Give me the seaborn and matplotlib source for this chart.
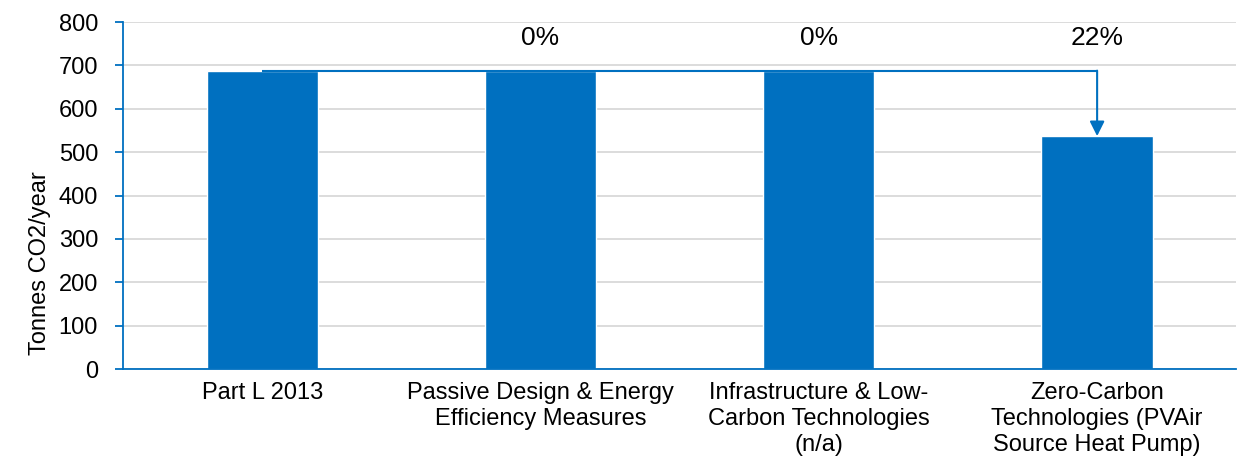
import matplotlib
matplotlib.use("Agg")
import matplotlib.pyplot as plt
import seaborn as sns
import pandas as pd

categories = [
    "Part L 2013",
    "Passive Design & Energy\nEfficiency Measures",
    "Infrastructure & Low-\nCarbon Technologies\n(n/a)",
    "Zero-Carbon\nTechnologies (PVAir\nSource Heat Pump)",
]
emissions = [688, 688, 688, 537]
y_ticks = [0, 100, 200, 300, 400, 500, 600, 700, 800]

BLUE = "#0070C0"
GRID = "#D9D9D9"
FS = 17

sns.set_theme(style="white")
plt.rcParams["font.family"] = ["Liberation Sans", "DejaVu Sans"]

df = pd.DataFrame({"stage": categories, "co2": emissions})

fig = plt.figure(figsize=(12.39, 4.59), dpi=100)
ax = fig.add_axes([0.0993, 0.196, 0.8985, 0.756])

sns.barplot(data=df, x="stage", y="co2", color=BLUE, width=0.4,
            saturation=1, ax=ax, zorder=2)

ax.set_xlim(-0.5, len(categories) - 0.5)
ax.set_ylim(0, 800)
ax.set_yticks(y_ticks)
ax.set_yticklabels([str(v) for v in y_ticks], fontsize=FS, color="black")
ax.yaxis.grid(True, color=GRID, linewidth=1.3, zorder=0)
ax.set_axisbelow(True)

# category labels centred, tick marks on category boundaries
ax.set_xticks(range(len(categories)))
ax.set_xticklabels(categories, fontsize=FS, color="black", linespacing=1.25)
ax.tick_params(axis="x", which="major", length=0, pad=9)
ax.set_xticks([i - 0.5 for i in range(len(categories) + 1)], minor=True)
ax.tick_params(axis="x", which="minor", length=6, width=1.3, color=BLUE, direction="out")
ax.tick_params(axis="y", which="major", length=6, width=1.3, color=BLUE, direction="out", pad=12, left=True)

ax.set_xlabel("")
ax.set_ylabel("Tonnes CO2/year", fontsize=FS, color="black")
ax.yaxis.set_label_coords(-0.0647, 0.305)

for side in ["top", "right"]:
    ax.spines[side].set_visible(False)
for side in ["left", "bottom"]:
    ax.spines[side].set_color(BLUE)
    ax.spines[side].set_linewidth(1.3)

# percentage reduction of each stage versus the previous one
for i in range(1, len(emissions)):
    pct = round((emissions[i - 1] - emissions[i]) / emissions[i - 1] * 100)
    ax.text(i, 763, f"{pct}%", ha="center", va="center", fontsize=19, color="black")

# connector from the baseline to the final stage
start = emissions[0]
last = len(emissions) - 1
ax.plot([0, last], [start, start], color=BLUE, linewidth=1.5, zorder=3,
        solid_capstyle="butt")
ax.annotate("", xy=(last, emissions[-1]), xytext=(last, start),
            arrowprops=dict(arrowstyle="-|>", color=BLUE, lw=1.5,
                            mutation_scale=22, shrinkA=0, shrinkB=0),
            zorder=3)

fig.savefig("out.png", dpi=100)
